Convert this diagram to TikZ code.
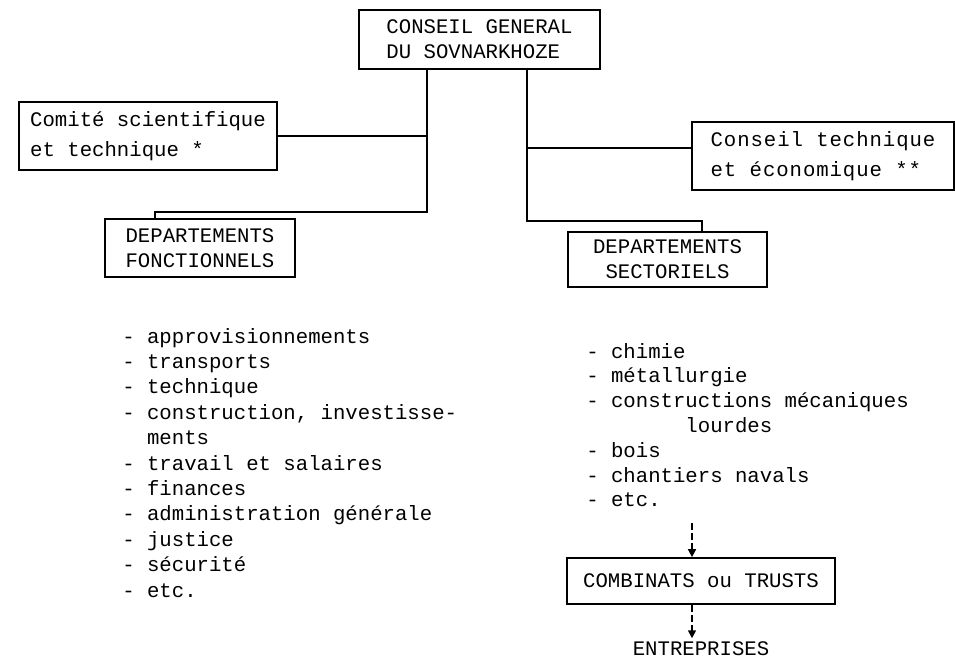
\documentclass[tikz,border=0pt]{standalone}
\usepackage{fontspec}
\setmainfont{Liberation Mono}
\usetikzlibrary{arrows.meta}
% typewriter-like face at a fixed size; the argument is the line spacing
\newcommand{\typefont}[1]{\fontsize{15.5}{#1}\selectfont}
\tikzset{
  box/.style={draw, line width=1.3pt, inner sep=0pt, align=left},
  wh/.style 2 args={minimum width=#1*0.75pt, minimum height=#2*0.75pt},
  tight/.style={font=\typefont{18.75}},
  loose/.style={font=\typefont{22.5}},
  link/.style={line width=1.3pt},
  dasharrow/.style={line width=1.2pt, dash pattern=on 5pt off 2.5pt,
    -{Triangle[length=6pt,width=6pt]}},
  item/.style={anchor=base west, inner sep=0pt, font=\typefont{18.75}}
}
\begin{document}
\begin{tikzpicture}[x=0.75pt,y=-0.75pt]
\useasboundingbox (0,0) rectangle (955,668);

% boxes
\node[box,tight,wh={241}{59}] (cg) at (479.5,39.5) {CONSEIL GENERAL\\DU SOVNARKHOZE};
\node[box,loose,wh={258}{68}] (comite) at (148,136) {Comité scientifique\\et technique *};
\node[box,wh={262}{68},font=\typefont{22.5}\addfontfeature{LetterSpace=4.5}] (ceco) at (823,156)
  {Conseil technique\\et économique **};
\node[box,tight,wh={190}{58}] (fonc) at (200,248) {DEPARTEMENTS\\FONCTIONNELS};
\node[box,tight,align=center,wh={199}{55}] (sect) at (667.5,259.5) {DEPARTEMENTS\\SECTORIELS};
\node[box,tight,wh={268}{46}] (comb) at (701,581) {COMBINATS ou TRUSTS};
\node[inner sep=2pt,anchor=base,font=\typefont{18.75}] (entr) at (701,655) {ENTREPRISES};

% tree connectors
\coordinate (lj) at (427,212);
\coordinate (fl) at (155,0);
\coordinate (rj) at (527,221);
\coordinate (sr) at (702,0);
\coordinate (ch) at (527,148);
\draw[link] (cg.south -| lj) -- (lj) -| (fonc.north -| fl);
\draw[link] (comite.east) -- (comite.east -| lj);
\draw[link] (cg.south -| rj) -- (rj) -| (sect.north -| sr);
\draw[link] (ch) -- (ch -| ceco.west);

% functional departments
\foreach \t [count=\i from 0] in {{- approvisionnements},{- transports},{- technique},
    {- construction, investisse-},{\hphantom{xx}ments},{- travail et salaires},{- finances},
    {- administration générale},{- justice},{- sécurité},{- etc.}}
  \node[item] (fn\i) at (122,343+25.4*\i) {\t};

% sectoral departments
\foreach \t [count=\i from 0] in {{- chimie},{- métallurgie},{- constructions mécaniques},
    {\hphantom{xxxxxxxx}lourdes},{- bois},{- chantiers navals},{- etc.}}
  \node[item] (sn\i) at (586,358+24.8*\i) {\t};

% downward chain
\coordinate (a1) at (692,523);
\draw[dasharrow] (a1) -- (a1 |- comb.north);
\draw[dasharrow] (comb.south -| a1) -- (a1 |- entr.north);
\end{tikzpicture}
\end{document}
